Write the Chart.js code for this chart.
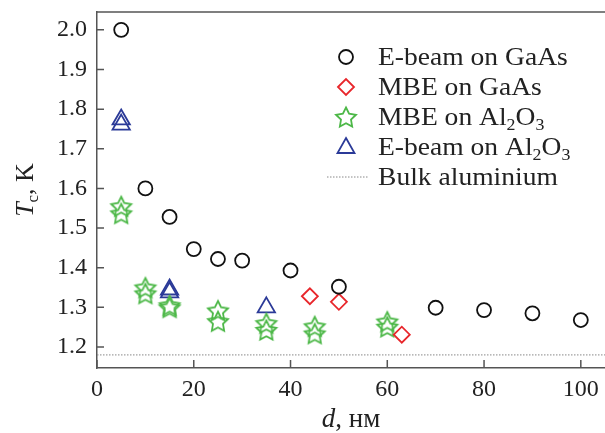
<!DOCTYPE html>
<html>
<head>
<meta charset="utf-8">
<script src="https://cdn.jsdelivr.net/npm/chart.js@4.4.0/dist/chart.umd.min.js"></script>
<style>
  body { margin: 0; background: #fff; }
</style>
</head>
<body>
<canvas id="chartTc" width="605" height="433"></canvas>
<script>
// ticks
const X_TICKS = [0, 20, 40, 60, 80, 100];
const Y_TICKS = [1.2, 1.3, 1.4, 1.5, 1.6, 1.7, 1.8, 1.9, 2.0];

// E-beam on GaAs
const EBEAM_GAAS_D = [5, 10, 15, 20, 25, 30, 40, 50, 70, 80, 90, 100];
const EBEAM_GAAS_TC = [2.0, 1.6, 1.528, 1.447, 1.422, 1.418, 1.393, 1.352, 1.299, 1.293, 1.285, 1.268];

// MBE on GaAs
const MBE_GAAS_D = [44, 50, 63];
const MBE_GAAS_TC = [1.328, 1.314, 1.231];

// MBE on Al2O3
const MBE_AL2O3_D = [5, 5, 10, 10, 15, 15, 25, 25, 35, 35, 45, 45, 60, 60];
const MBE_AL2O3_TC = [1.555, 1.537, 1.35, 1.335, 1.305, 1.3, 1.292, 1.265, 1.26, 1.243, 1.252, 1.234, 1.264, 1.251];

// E-beam on Al2O3
const EBEAM_AL2O3_D = [5, 5, 15, 15, 35];
const EBEAM_AL2O3_TC = [1.774, 1.761, 1.345, 1.338, 1.3];

// bulk aluminium
const BULK_D = [0, 105];
const BULK_TC = [1.18, 1.18];

const X_MIN = 0, X_MAX = 105;
const Y_MIN = 1.147, Y_MAX = 2.045;

const FONT = '"Liberation Serif", "DejaVu Serif", serif';
const BLACK = '#111111';
const RED = '#e8262b';
const GREEN = '#4db848';
const BLUE = '#2b3a98';
const AXIS = '#555555';

const toPoints = (xs, ys) => xs.map((x, i) => ({ x: x, y: ys[i] }));

const starPath = (ctx, cx, cy, R) => {
  const r = R * 0.5;
  ctx.beginPath();
  for (let i = 0; i < 10; i++) {
    const a = -Math.PI / 2 + i * Math.PI / 5;
    const rr = i % 2 === 0 ? R : r;
    const px = cx + rr * Math.cos(a);
    const py = cy + rr * Math.sin(a);
    if (i === 0) ctx.moveTo(px, py); else ctx.lineTo(px, py);
  }
  ctx.closePath();
};

const starImage = (() => {
  const c = document.createElement('canvas');
  c.width = 26; c.height = 26;
  const g = c.getContext('2d');
  g.strokeStyle = GREEN;
  g.lineWidth = 1.8;
  starPath(g, 13, 14, 10.5);
  g.stroke();
  return c;
})();

// text with subscripts, segments: [text, isSub, isItalic]
const richWidth = (ctx, segs, size) => {
  let w = 0;
  segs.forEach(s => {
    const fs = s[1] ? size * 0.65 : size;
    ctx.font = (s[2] ? 'italic ' : '') + fs + 'px ' + FONT;
    w += ctx.measureText(s[0]).width;
  });
  return w;
};

const drawRich = (ctx, segs, x, y, size) => {
  ctx.textAlign = 'left';
  ctx.textBaseline = 'alphabetic';
  segs.forEach(s => {
    const fs = s[1] ? size * 0.65 : size;
    ctx.font = (s[2] ? 'italic ' : '') + fs + 'px ' + FONT;
    ctx.fillText(s[0], x, y + (s[1] ? size * 0.2 : 0));
    x += ctx.measureText(s[0]).width;
  });
};

const legendItems = [
  { style: 'circle', color: BLACK, text: [['E-beam on GaAs']] },
  { style: 'diamond', color: RED, text: [['MBE on GaAs']] },
  { style: 'star', color: GREEN, text: [['MBE on Al'], ['2', true], ['O'], ['3', true]] },
  { style: 'triangle', color: BLUE, text: [['E-beam on Al'], ['2', true], ['O'], ['3', true]] },
  { style: 'line', color: '#888888', text: [['Bulk aluminium']] },
];

const framePlugin = {
  id: 'frame',
  afterDatasetsDraw(chart) {
    const ctx = chart.ctx;
    const a = chart.chartArea;
    const xs = chart.scales.x;
    const ys = chart.scales.y;
    ctx.save();
    ctx.strokeStyle = AXIS;
    ctx.lineWidth = 1.5;
    ctx.beginPath();
    ctx.moveTo(a.left, a.top);
    ctx.lineTo(a.right, a.top);
    Y_TICKS.forEach(v => {
      const p = ys.getPixelForValue(v);
      ctx.moveTo(a.left, p);
      ctx.lineTo(a.left + 7, p);
    });
    X_TICKS.forEach(v => {
      const p = xs.getPixelForValue(v);
      ctx.moveTo(p, a.bottom);
      ctx.lineTo(p, a.bottom - 8);
    });
    ctx.stroke();
    ctx.restore();
  },
  afterDraw(chart) {
    const ctx = chart.ctx;
    const a = chart.chartArea;
    ctx.save();
    ctx.fillStyle = '#222222';

    // axis titles
    const xt = [['d', false, true], [', нм']];
    const xw = richWidth(ctx, xt, 27);
    drawRich(ctx, xt, (a.left + a.right) / 2 - xw / 2, 427, 27);

    const yt = [['T', false, true], ['c', true], [', K']];
    const yw = richWidth(ctx, yt, 26);
    ctx.save();
    ctx.translate(33, (a.top + a.bottom) / 2);
    ctx.rotate(-Math.PI / 2);
    drawRich(ctx, yt, -yw / 2, 0, 26);
    ctx.restore();

    // legend
    legendItems.forEach((item, i) => {
      const cy = 57 + i * 30;
      const cx = 346;
      ctx.strokeStyle = item.color;
      ctx.lineWidth = 1.8;
      if (item.style === 'circle') {
        ctx.beginPath();
        ctx.arc(cx, cy, 7, 0, Math.PI * 2);
        ctx.stroke();
      } else if (item.style === 'diamond') {
        ctx.beginPath();
        ctx.moveTo(cx - 8, cy); ctx.lineTo(cx, cy - 8);
        ctx.lineTo(cx + 8, cy); ctx.lineTo(cx, cy + 8);
        ctx.closePath();
        ctx.stroke();
      } else if (item.style === 'star') {
        starPath(ctx, cx, cy + 1, 10.5);
        ctx.stroke();
      } else if (item.style === 'triangle') {
        ctx.beginPath();
        ctx.moveTo(cx, cy - 9); ctx.lineTo(cx + 8.5, cy + 6);
        ctx.lineTo(cx - 8.5, cy + 6);
        ctx.closePath();
        ctx.stroke();
      } else {
        ctx.lineWidth = 1;
        ctx.setLineDash([1.5, 1.5]);
        ctx.beginPath();
        ctx.moveTo(327, cy); ctx.lineTo(368, cy);
        ctx.stroke();
        ctx.setLineDash([]);
      }
      ctx.fillStyle = '#222222';
      ctx.save();
      ctx.translate(378, cy + 8);
      ctx.scale(1.06, 1);
      drawRich(ctx, item.text, 0, 0, 26);
      ctx.restore();
    });
    ctx.restore();
  },
};

const pointSet = (label, xs, ys, style, color, radius) => ({
  label: label,
  data: toPoints(xs, ys),
  showLine: false,
  pointStyle: style,
  pointRadius: radius,
  pointHoverRadius: radius,
  pointBorderColor: color,
  pointBackgroundColor: 'rgba(0,0,0,0)',
  pointBorderWidth: 1.8,
});

new Chart(document.getElementById('chartTc'), {
  type: 'scatter',
  data: {
    datasets: [
      {
        label: 'Bulk aluminium',
        data: toPoints(BULK_D, BULK_TC),
        showLine: true,
        borderColor: '#888888',
        borderWidth: 1,
        borderDash: [1.5, 1.5],
        pointRadius: 0,
      },
      pointSet('E-beam on GaAs', EBEAM_GAAS_D, EBEAM_GAAS_TC, 'circle', BLACK, 7),
      pointSet('MBE on GaAs', MBE_GAAS_D, MBE_GAAS_TC, 'rectRot', RED, 8),
      pointSet('MBE on Al2O3', MBE_AL2O3_D, MBE_AL2O3_TC, starImage, GREEN, 10),
      pointSet('E-beam on Al2O3', EBEAM_AL2O3_D, EBEAM_AL2O3_TC, 'triangle', BLUE, 10),
    ],
  },
  options: {
    responsive: false,
    animation: false,
    layout: { autoPadding: false, padding: { top: 12, right: 0, left: 0, bottom: 0 } },
    plugins: { legend: { display: false }, tooltip: { enabled: false } },
    scales: {
      x: {
        type: 'linear',
        min: X_MIN,
        max: X_MAX,
        afterBuildTicks: scale => { scale.ticks = X_TICKS.map(v => ({ value: v })); },
        afterFit: scale => {
          scale.height = 65;
          scale.paddingLeft = 0;
          scale.paddingRight = 0;
        },
        grid: { display: false, drawTicks: false },
        border: { display: true, color: AXIS, width: 1.5 },
        ticks: { color: '#222222', padding: 7, font: { family: FONT, size: 24 } },
      },
      y: {
        type: 'linear',
        min: Y_MIN,
        max: Y_MAX,
        afterBuildTicks: scale => { scale.ticks = Y_TICKS.map(v => ({ value: v })); },
        afterFit: scale => {
          scale.width = 97;
          scale.paddingTop = 0;
          scale.paddingBottom = 0;
        },
        grid: { display: false, drawTicks: false },
        border: { display: true, color: AXIS, width: 1.5 },
        ticks: {
          color: '#222222',
          padding: 10,
          font: { family: FONT, size: 24 },
          callback: v => v.toFixed(1),
        },
      },
    },
  },
  plugins: [framePlugin],
});
</script>
</body>
</html>
